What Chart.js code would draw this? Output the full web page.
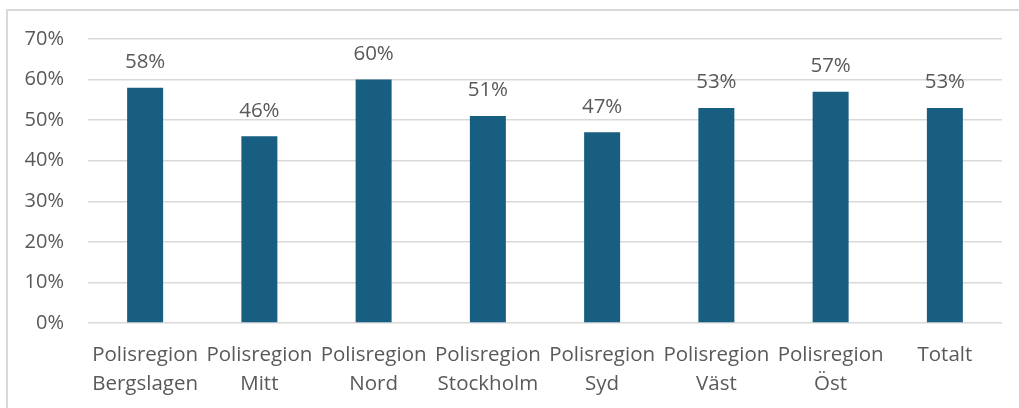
<!DOCTYPE html>
<html>
<head>
<meta charset="utf-8">
<script src="https://cdn.jsdelivr.net/npm/chart.js@4/dist/chart.umd.min.js"></script>
<style>
  html, body { margin: 0; padding: 0; background: #ffffff; overflow: hidden; }
  #frame { position: absolute; left: 6px; top: 9px; width: 1100px; height: 500px; border: 2px solid #d9d9d9; box-sizing: border-box; }
  #wrap { position: absolute; left: 0; top: 0; width: 1019px; height: 408px; }
</style>
</head>
<body>
<div id="frame"></div>
<div id="wrap"><canvas id="c" width="1019" height="408"></canvas></div>
<script>
const categories = [
  ["Polisregion", "Bergslagen"],
  ["Polisregion", "Mitt"],
  ["Polisregion", "Nord"],
  ["Polisregion", "Stockholm"],
  ["Polisregion", "Syd"],
  ["Polisregion", "Väst"],
  ["Polisregion", "Öst"],
  "Totalt"
];
const values = [58, 46, 60, 51, 47, 53, 57, 53];
const yTicks = [0, 10, 20, 30, 40, 50, 60, 70];

const FONT = "'Open Sans', sans-serif";
const TEXT = "#595959";

const dataLabels = {
  id: 'dataLabels',
  afterDatasetsDraw(chart) {
    const ctx = chart.ctx;
    const meta = chart.getDatasetMeta(0);
    ctx.save();
    ctx.font = "20.5px " + FONT;
    ctx.fillStyle = TEXT;
    ctx.textAlign = 'center';
    ctx.textBaseline = 'middle';
    meta.data.forEach((bar, i) => {
      ctx.fillText(values[i] + '%', bar.x, bar.y - 25.5);
    });
    ctx.restore();
  }
};

new Chart(document.getElementById('c'), {
  type: 'bar',
  data: {
    labels: categories,
    datasets: [{
      data: values,
      backgroundColor: '#175e81',
      categoryPercentage: 1,
      barPercentage: 0.315
    }]
  },
  options: {
    responsive: false,
    animation: false,
    layout: { padding: { left: 0, right: 17, top: 39, bottom: 0 } },
    plugins: { legend: { display: false }, tooltip: { enabled: false } },
    scales: {
      x: {
        grid: { display: false, drawTicks: false },
        border: { display: false },
        ticks: {
          color: TEXT,
          font: { family: FONT, size: 20.5, lineHeight: 1.42 },
          padding: 17.5,
          maxRotation: 0,
          autoSkip: false
        },
        afterFit(s) { s.height = 85; }
      },
      y: {
        min: 0,
        max: 70,
        afterBuildTicks(s) { s.ticks = yTicks.map(v => ({ value: v })); },
        grid: { color: '#d9d9d9', lineWidth: 1.5, drawTicks: false },
        border: { display: false },
        ticks: {
          color: TEXT,
          font: { family: FONT, size: 20 },
          padding: 24,
          callback: v => v + '%'
        },
        afterFit(s) { s.width = 88; }
      }
    }
  },
  plugins: [dataLabels]
});
</script>
</body>
</html>
